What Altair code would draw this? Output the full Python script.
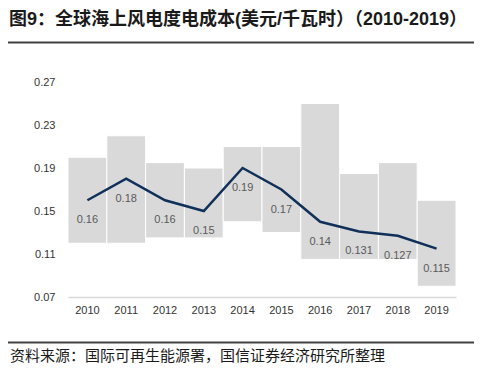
import altair as alt
import pandas as pd

years = ["2010", "2011", "2012", "2013", "2014", "2015", "2016", "2017", "2018", "2019"]
low = [0.12, 0.12, 0.125, 0.125, 0.14, 0.13, 0.105, 0.105, 0.105, 0.08]
high = [0.20, 0.22, 0.195, 0.19, 0.21, 0.21, 0.25, 0.185, 0.195, 0.16]
lcoe = [0.16, 0.18, 0.16, 0.15, 0.19, 0.17, 0.14, 0.131, 0.127, 0.115]
labels = ["0.16", "0.18", "0.16", "0.15", "0.19", "0.17", "0.14", "0.131", "0.127", "0.115"]
y_ticks = [0.07, 0.11, 0.15, 0.19, 0.23, 0.27]

title_text = "图9：全球海上风电度电成本(美元/千瓦时）（2010-2019）"
source_text = "资料来源：国际可再生能源署，国信证券经济研究所整理"

df = pd.DataFrame({"year": years, "low": low, "high": high, "lcoe": lcoe, "label": labels})

x_enc = alt.X("year:N", sort=years,
              scale=alt.Scale(paddingInner=0, paddingOuter=0),
              axis=alt.Axis(title=None, labelAngle=0, ticks=False, tickSize=0,
                            labelPadding=7, labelFontSize=11, labelColor="#333333",
                            labelFont="Liberation Sans",
                            domainColor="#d9d9d9", domainWidth=1.5))
y_scale = alt.Scale(domain=[0.07, 0.27], nice=False, zero=False)

bars = alt.Chart(df).mark_bar(color="#d9d9d9", stroke="white", strokeWidth=1).encode(
    x=x_enc,
    y=alt.Y("low:Q", scale=y_scale,
            axis=alt.Axis(title=None, values=y_ticks, format=".2f", grid=False,
                          domain=False, ticks=False, tickSize=0, labelPadding=13,
                          labelFontSize=11, labelColor="#333333",
                          labelFont="Liberation Sans")),
    y2="high:Q",
)

line = alt.Chart(df).mark_line(color="#10305a", strokeWidth=2.5).encode(
    x=alt.X("year:N", sort=years),
    y=alt.Y("lcoe:Q", scale=y_scale),
)

text = alt.Chart(df).mark_text(dy=20, fontSize=11, color="#595959",
                               font="Liberation Sans", baseline="middle").encode(
    x=alt.X("year:N", sort=years),
    y=alt.Y("lcoe:Q", scale=y_scale),
    text="label:N",
)

title = alt.Chart(pd.DataFrame({"t": [title_text]})).mark_text(
    align="left", baseline="alphabetic", fontSize=18, fontWeight="bold",
    font="Liberation Sans, Noto Sans CJK SC", color="#1a1a1a").encode(
    x=alt.value(-59), y=alt.value(-57), text="t:N")

source = alt.Chart(pd.DataFrame({"t": [source_text]})).mark_text(
    align="left", baseline="middle", fontSize=15,
    font="Noto Sans CJK SC", color="#1a1a1a").encode(
    x=alt.value(-58), y=alt.value(274), text="t:N")

rule_top = alt.Chart(pd.DataFrame({"a": [0]})).mark_rule(color="#404040", strokeWidth=2).encode(
    x=alt.value(-60), x2=alt.value(406), y=alt.value(-39.5))
rule_bot = alt.Chart(pd.DataFrame({"a": [0]})).mark_rule(color="#404040", strokeWidth=2).encode(
    x=alt.value(-60), x2=alt.value(406), y=alt.value(260.5))

chart = alt.layer(bars, line, text, title, source, rule_top, rule_bot).properties(
    width=388, height=215, autosize="none",
    padding={"left": 60, "top": 74, "right": 18, "bottom": 69},
).configure_view(strokeWidth=0)

chart.save("out.html", embed_options={"renderer": "svg", "actions": False})
